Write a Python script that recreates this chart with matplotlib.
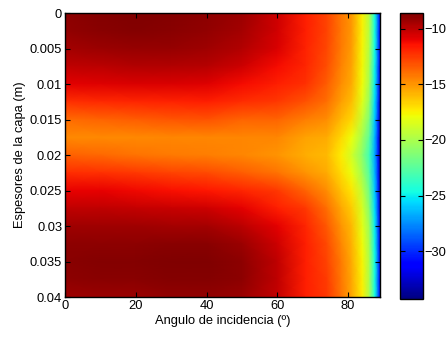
import numpy as np
from matplotlib import pyplot as plt

plt.rcParams['font.family'] = ['Liberation Sans', 'DejaVu Sans']

# incidence angles (deg) and layer thicknesses (m) of the grid
angles = [0, 10, 20, 30, 40, 50, 60, 68, 74, 78, 81, 84, 86, 87.5, 88.5, 89]
thickness = [0, 0.0025, 0.005, 0.0075, 0.01, 0.0125, 0.015, 0.0175, 0.02,
             0.0225, 0.025, 0.0275, 0.03, 0.0325, 0.035, 0.0375, 0.04]

# one profile per angle, values along the thickness axis
profiles = [
    [-9.0, -9.1, -9.5, -10.1, -10.9, -12.3, -13.9, -14.7, -13.6, -12.2, -11.0, -10.1, -9.4, -9.0, -8.9, -9.0, -9.4],
    [-8.8, -8.9, -9.3, -10.0, -10.8, -12.1, -13.7, -14.7, -13.8, -12.3, -11.0, -10.1, -9.4, -9.0, -8.8, -8.9, -9.3],
    [-8.7, -8.8, -9.2, -9.8, -10.7, -12.0, -13.5, -14.7, -14.1, -12.5, -11.2, -10.2, -9.4, -9.0, -8.8, -8.9, -9.3],
    [-8.8, -8.9, -9.2, -9.8, -10.7, -11.9, -13.3, -14.6, -14.3, -12.8, -11.4, -10.3, -9.5, -8.9, -8.7, -8.8, -9.1],
    [-9.0, -9.1, -9.4, -9.9, -10.8, -11.8, -13.2, -14.6, -14.4, -13.0, -11.6, -10.4, -9.5, -8.9, -8.7, -8.8, -9.1],
    [-9.3, -9.5, -9.8, -10.4, -11.3, -12.2, -13.7, -14.6, -14.6, -13.5, -12.0, -10.9, -10.0, -9.3, -9.0, -9.0, -9.3],
    [-10.4, -10.5, -10.7, -11.3, -11.8, -12.5, -13.7, -14.6, -15.0, -14.1, -12.5, -11.8, -10.9, -10.4, -10.1, -10.1, -10.2],
    [-11.8, -11.8, -11.9, -12.0, -12.3, -13.2, -14.4, -15.4, -15.7, -15.0, -13.7, -12.5, -12.0, -11.8, -11.8, -11.8, -11.8],
    [-12.8, -12.8, -12.9, -13.1, -13.5, -14.0, -14.8, -15.6, -16.0, -15.6, -14.8, -14.0, -13.4, -13.0, -12.8, -12.6, -12.5],
    [-14.2, -14.2, -14.3, -14.5, -14.8, -15.3, -16.0, -16.8, -17.4, -16.9, -16.2, -15.5, -15.0, -14.6, -14.3, -14.2, -14.1],
    [-15.1, -15.1, -15.2, -15.4, -15.6, -16.1, -16.8, -17.9, -18.8, -18.0, -17.2, -16.5, -16.0, -15.8, -15.6, -15.5, -15.5],
    [-17.5, -17.5, -17.6, -17.7, -17.8, -18.3, -19.2, -20.2, -21.0, -20.3, -19.3, -18.6, -18.2, -17.8, -17.6, -17.5, -17.4],
    [-19.7, -19.7, -19.8, -20.0, -20.2, -20.7, -21.5, -22.5, -23.4, -22.8, -22.0, -21.2, -20.5, -20.2, -20.0, -20.0, -20.0],
    [-24.5, -24.5, -24.6, -24.8, -25.0, -25.4, -25.9, -26.4, -26.7, -26.4, -25.9, -25.4, -25.0, -24.8, -24.6, -24.5, -24.5],
    [-28.5, -28.5, -28.6, -28.8, -29.0, -29.4, -29.8, -30.1, -30.3, -30.1, -29.8, -29.4, -29.0, -28.8, -28.6, -28.5, -28.5],
    [-31.5, -31.5, -31.7, -32.0, -32.4, -32.9, -33.4, -33.8, -33.9, -33.7, -33.3, -32.8, -32.3, -32.0, -31.7, -31.5, -31.5],
]

x_ticks = [0, 20, 40, 60, 80]
y_ticks = [0, 0.005, 0.01, 0.015, 0.02, 0.025, 0.03, 0.035, 0.04]
y_labels = ['0', '0.005', '0.01', '0.015', '0.02', '0.025', '0.03', '0.035', '0.04']
cb_ticks = [-30, -25, -20, -15, -10]

z = np.array(profiles).T
fs = 9.3

fig = plt.figure(figsize=(4.46, 3.38), dpi=100)
ax = fig.add_axes([0.1457, 0.1213, 0.7063, 0.8402])
cax = fig.add_axes([0.8969, 0.1154, 0.0516, 0.846])

mesh = ax.pcolormesh(angles, thickness, z, shading='gouraud', cmap='jet',
                     vmin=-34.3, vmax=-8.6, rasterized=True)
ax.set_xlim(0, 89)
ax.set_ylim(0.04, 0)
ax.set_xticks(x_ticks)
ax.set_yticks(y_ticks)
ax.set_yticklabels(y_labels)
ax.tick_params(direction='in', length=3.5, width=0.8, labelsize=fs,
               top=True, right=True, pad=2, colors='black')
for s in ax.spines.values():
    s.set_linewidth(1.0)
ax.set_xlabel('Angulo de incidencia (º)', fontsize=fs, labelpad=2)
ax.set_ylabel('Espesores de la capa (m)', fontsize=fs, labelpad=3)

cb = fig.colorbar(mesh, cax=cax)
cb.set_ticks(cb_ticks)
cb.ax.tick_params(direction='in', length=3.5, width=0.8, labelsize=fs,
                  left=True, right=True, pad=1)
cb.outline.set_linewidth(1.0)

fig.savefig('out.png', dpi=100)
